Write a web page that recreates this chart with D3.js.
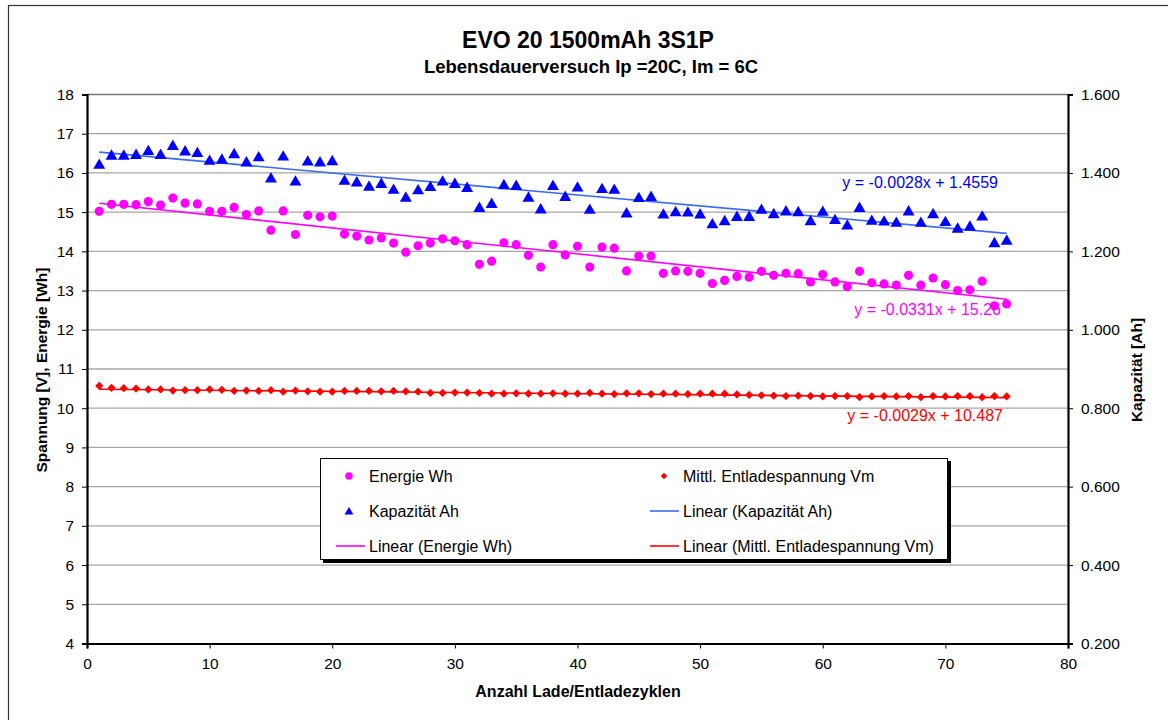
<!DOCTYPE html>
<html>
<head>
<meta charset="utf-8">
<script src="https://cdn.jsdelivr.net/npm/d3@7"></script>
<style>
  body { margin: 0; background: #fff; }
  svg { font-family: "Liberation Sans", Arial, sans-serif; }
</style>
</head>
<body>
<svg width="1168" height="720"></svg>
<script>
// cycles 1..75
var cycles = d3.range(1, 76);

// Energie Wh (left axis)
var energie = [15.02, 15.20, 15.20, 15.19, 15.27, 15.18, 15.36, 15.23, 15.21, 15.02,
  15.02, 15.12, 14.94, 15.03, 14.54, 15.03, 14.43, 14.92, 14.88, 14.90,
  14.44, 14.39, 14.29, 14.34, 14.21, 13.98, 14.14, 14.21, 14.32, 14.27,
  14.17, 13.67, 13.75, 14.22, 14.17, 13.90, 13.60, 14.17, 13.91, 14.13,
  13.60, 14.11, 14.08, 13.50, 13.88, 13.88, 13.44, 13.50, 13.49, 13.44,
  13.18, 13.26, 13.36, 13.34, 13.49, 13.39, 13.44, 13.43, 13.22, 13.41,
  13.22, 13.10, 13.49, 13.20, 13.17, 13.14, 13.39, 13.14, 13.32, 13.15,
  13.00, 13.02, 13.24, 12.61, 12.66];

// Kapazität Ah (right axis)
var kapazitaet = [1.422, 1.445, 1.445, 1.447, 1.457, 1.447, 1.470, 1.456, 1.452, 1.432,
  1.435, 1.449, 1.428, 1.441, 1.387, 1.443, 1.379, 1.430, 1.428, 1.431,
  1.381, 1.377, 1.366, 1.373, 1.358, 1.338, 1.357, 1.365, 1.379, 1.373,
  1.363, 1.312, 1.322, 1.370, 1.368, 1.338, 1.308, 1.368, 1.340, 1.364,
  1.307, 1.360, 1.358, 1.298, 1.337, 1.340, 1.295, 1.301, 1.300, 1.295,
  1.270, 1.278, 1.289, 1.289, 1.307, 1.296, 1.303, 1.301, 1.278, 1.302,
  1.281, 1.267, 1.312, 1.279, 1.277, 1.274, 1.303, 1.274, 1.296, 1.276,
  1.259, 1.264, 1.290, 1.222, 1.228];

// Mittl. Entladespannung Vm (left axis)
var spannung = [10.57, 10.52, 10.51, 10.50, 10.48, 10.48, 10.45, 10.46, 10.46, 10.48,
  10.47, 10.44, 10.45, 10.44, 10.46, 10.42, 10.45, 10.43, 10.42, 10.42,
  10.44, 10.44, 10.44, 10.43, 10.44, 10.43, 10.42, 10.39, 10.39, 10.40,
  10.40, 10.39, 10.37, 10.37, 10.38, 10.37, 10.37, 10.38, 10.37, 10.37,
  10.39, 10.37, 10.36, 10.38, 10.38, 10.36, 10.37, 10.37, 10.36, 10.37,
  10.37, 10.37, 10.35, 10.34, 10.33, 10.32, 10.31, 10.32, 10.31, 10.30,
  10.31, 10.31, 10.28, 10.30, 10.31, 10.30, 10.31, 10.28, 10.31, 10.30,
  10.31, 10.31, 10.28, 10.31, 10.30];

// trend line coefficients as printed on the chart [slope, intercept]
var trendKap = [-0.0028, 1.4559];
var trendEnergie = [-0.0331, 15.26];
var trendSpannung = [-0.0029, 10.487];

var xTicks = [0, 10, 20, 30, 40, 50, 60, 70, 80];
var yLeftTicks = d3.range(4, 19);
var yRightTicks = [0.2, 0.4, 0.6, 0.8, 1.0, 1.2, 1.4, 1.6];

var svg = d3.select("svg");

var x = d3.scaleLinear().domain([0, 80]).range([87, 1068]);
var yL = d3.scaleLinear().domain([4, 18]).range([643.5, 94.5]);
var yR = d3.scaleLinear().domain([0.2, 1.6]).range([643.5, 94.5]);

// outer frame
svg.append("rect").attr("x", 8.5).attr("y", 5.5).attr("width", 1200).attr("height", 760)
  .attr("fill", "none").attr("stroke", "#333").attr("stroke-width", 1.2);

// titles
svg.append("text").attr("x", 588).attr("y", 48).attr("text-anchor", "middle")
  .attr("font-size", 23).attr("font-weight", "bold").text("EVO 20 1500mAh 3S1P");
svg.append("text").attr("x", 591).attr("y", 73).attr("text-anchor", "middle")
  .attr("font-size", 18.5).attr("font-weight", "bold").text("Lebensdauerversuch Ip =20C, Im = 6C");

// gridlines
svg.append("g").selectAll("line").data(yLeftTicks.filter(function(d) { return d > 4; }))
  .enter().append("line")
  .attr("x1", x(0)).attr("x2", x(80))
  .attr("y1", function(d) { return yL(d); }).attr("y2", function(d) { return yL(d); })
  .attr("stroke", function(d) { return d == 18 ? "#777" : "#a6a6a6"; })
  .attr("stroke-width", 1.3);

// axes
var gx = svg.append("g").attr("transform", "translate(0," + yL(4) + ")")
  .call(d3.axisBottom(x).tickValues(xTicks).tickSize(5).tickPadding(9));
var gl = svg.append("g").attr("transform", "translate(" + x(0) + ",0)")
  .call(d3.axisLeft(yL).tickValues(yLeftTicks).tickSize(5).tickPadding(8));
var gr = svg.append("g").attr("transform", "translate(" + x(80) + ",0)")
  .call(d3.axisRight(yR).tickValues(yRightTicks).tickFormat(d3.format(".3f")).tickSize(5).tickPadding(8));

[gx, gl, gr].forEach(function(g) {
  g.select(".domain").attr("stroke", "#000").attr("stroke-width", 2.2);
  g.selectAll(".tick line").attr("stroke", "#000").attr("stroke-width", 1);
  g.selectAll(".tick text").attr("font-size", 15.5).attr("fill", "#000")
    .attr("font-family", "Liberation Sans, Arial, sans-serif");
});

// axis titles
svg.append("text").attr("x", 578).attr("y", 697).attr("text-anchor", "middle")
  .attr("font-size", 16).attr("font-weight", "bold").text("Anzahl Lade/Entladezyklen");
svg.append("text").attr("transform", "translate(47,370) rotate(-90)").attr("text-anchor", "middle")
  .attr("font-size", 15.5).attr("font-weight", "bold").text("Spannung [V], Energie [Wh]");
svg.append("text").attr("transform", "translate(1142,370) rotate(-90)").attr("text-anchor", "middle")
  .attr("font-size", 15.5).attr("font-weight", "bold").text("Kapazität [Ah]");

// trend lines
function trend(coef, scale, color) {
  svg.append("line")
    .attr("x1", x(1)).attr("y1", scale(coef[0] * 1 + coef[1]))
    .attr("x2", x(75)).attr("y2", scale(coef[0] * 75 + coef[1]))
    .attr("stroke", color).attr("stroke-width", 1.6);
}
trend(trendKap, yR, "#3b6bf0");
trend(trendEnergie, yL, "#ff00ff");
trend(trendSpannung, yL, "#ff0000");

// markers
svg.append("g").selectAll("path").data(cycles).enter().append("path")
  .attr("d", d3.symbol().type(d3.symbolTriangle).size(62))
  .attr("transform", function(d, i) { return "translate(" + x(d) + "," + (yR(kapazitaet[i]) + 1) + ")"; })
  .attr("fill", "#0000ff");

svg.append("g").selectAll("circle").data(cycles).enter().append("circle")
  .attr("cx", function(d) { return x(d); })
  .attr("cy", function(d, i) { return yL(energie[i]); })
  .attr("r", 4.6).attr("fill", "#ff00ff");

svg.append("g").selectAll("path").data(cycles).enter().append("path")
  .attr("d", d3.symbol().type(d3.symbolSquare).size(34))
  .attr("transform", function(d, i) { return "translate(" + x(d) + "," + yL(spannung[i]) + ") rotate(45)"; })
  .attr("fill", "#ff0000");

// equation labels
svg.append("text").attr("x", 998).attr("y", 188).attr("text-anchor", "end")
  .attr("font-size", 16).attr("fill", "#0000ff").text("y = -0.0028x + 1.4559");
svg.append("text").attr("x", 1001).attr("y", 315).attr("text-anchor", "end")
  .attr("font-size", 16).attr("fill", "#ff00ff").text("y = -0.0331x + 15.26");
svg.append("text").attr("x", 1003).attr("y", 421).attr("text-anchor", "end")
  .attr("font-size", 16).attr("fill", "#ff0000").text("y = -0.0029x + 10.487");

// legend
var lg = svg.append("g");
lg.append("rect").attr("x", 323).attr("y", 461).attr("width", 628).attr("height", 102).attr("fill", "#000");
lg.append("rect").attr("x", 320.5).attr("y", 458.5).attr("width", 627).attr("height", 101)
  .attr("fill", "#fff").attr("stroke", "#000").attr("stroke-width", 1);

var legendItems = [
  { label: "Energie Wh", kind: "circle", color: "#ff00ff", col: 0, row: 0 },
  { label: "Mittl. Entladespannung Vm", kind: "diamond", color: "#ff0000", col: 1, row: 0 },
  { label: "Kapazität Ah", kind: "triangle", color: "#0000ff", col: 0, row: 1 },
  { label: "Linear (Kapazität Ah)", kind: "line", color: "#3b6bf0", col: 1, row: 1 },
  { label: "Linear (Energie Wh)", kind: "line", color: "#ff00ff", col: 0, row: 2 },
  { label: "Linear (Mittl. Entladespannung Vm)", kind: "line", color: "#ff0000", col: 1, row: 2 }
];
var colX = [336, 650];
var textX = [369, 683];
var rowY = [476, 511, 546];

legendItems.forEach(function(d) {
  var cy = rowY[d.row];
  var mx = d.col == 0 ? 349 : 664;
  if (d.kind == "circle") {
    lg.append("circle").attr("cx", mx).attr("cy", cy).attr("r", 3.8).attr("fill", d.color);
  } else if (d.kind == "triangle") {
    lg.append("path").attr("d", d3.symbol().type(d3.symbolTriangle).size(34))
      .attr("transform", "translate(" + mx + "," + (cy + 1) + ")").attr("fill", d.color);
  } else if (d.kind == "diamond") {
    lg.append("path").attr("d", d3.symbol().type(d3.symbolSquare).size(22))
      .attr("transform", "translate(" + mx + "," + cy + ") rotate(45)").attr("fill", d.color);
  } else {
    lg.append("line").attr("x1", colX[d.col]).attr("x2", colX[d.col] + 29)
      .attr("y1", cy).attr("y2", cy).attr("stroke", d.color).attr("stroke-width", 1.6);
  }
  lg.append("text").attr("x", textX[d.col]).attr("y", cy + 5.5).attr("font-size", 16)
    .attr("fill", "#000").text(d.label);
});
</script>
</body>
</html>
